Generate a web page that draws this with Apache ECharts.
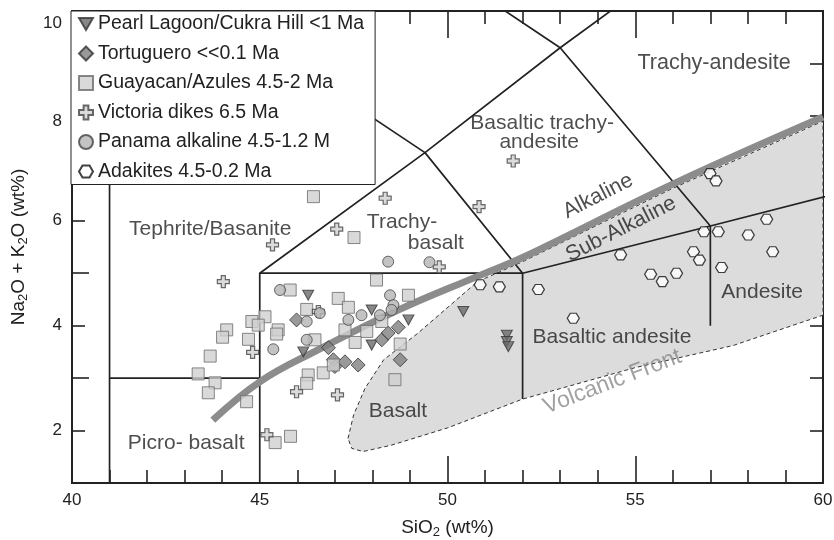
<!DOCTYPE html>
<html>
<head>
<meta charset="utf-8">
<script src="https://cdn.jsdelivr.net/npm/echarts@6/dist/echarts.min.js"></script>
<style>html,body{margin:0;padding:0;background:#fff}#c{width:834px;height:540px}</style>
</head>
<body>
<div id="c"></div>
<script>
// ---------- data ----------
const xTicksMinor = [41,42,43,44,46,47,48,49,51,52,53,54,56,57,58,59];
const xTicksMajor = [50,55];
const xTickLabels = [40,45,50,55,60];
const yTicksLeft = [2,4,6,7,8,9];
const yTicksLeftLong = [3,5];
const yTicksRight = [2,3,4,6,7,8,9];
const yTicksRightLong = [5];
const yTickLabels = [2,4,6,8,10];

const legendNames = ['Pearl Lagoon/Cukra Hill <1 Ma','Tortuguero <<0.1 Ma','Guayacan/Azules 4.5-2 Ma','Victoria dikes 6.5 Ma','Panama alkaline 4.5-1.2 M','Adakites 4.5-0.2 Ma'];

const pearlLagoon = [[46.29,4.58],[47.98,4.30],[48.96,4.11],[46.16,3.50],[47.98,3.63],[50.42,4.27],[51.58,3.82],[51.58,3.70],[51.62,3.60]];
const tortuguero = [[45.98,4.11],[46.83,3.58],[46.96,3.35],[47.27,3.31],[47.0,3.22],[47.62,3.25],[48.25,3.73],[48.42,3.86],[48.69,3.97],[48.74,3.35]];
const guayacan = [[45.81,4.68],[48.11,4.87],[48.96,4.58],[47.09,4.52],[47.36,4.35],[46.25,4.31],[45.14,4.17],[44.79,4.08],[44.96,4.01],[44.12,3.92],[44.01,3.78],[44.70,3.74],[45.49,3.92],[45.45,3.84],[47.27,3.92],[47.85,3.89],[48.25,4.08],[46.47,3.73],[47.54,3.68],[48.74,3.65],[43.68,3.42],[43.36,3.08],[43.81,2.91],[43.63,2.72],[46.29,3.06],[46.25,2.90],[46.69,3.10],[46.96,3.25],[44.65,2.55],[48.60,2.97],[45.41,1.77],[45.82,1.89],[46.43,6.46],[47.51,5.68]];
const victoria = [[44.03,4.84],[44.81,3.49],[45.98,2.74],[47.07,2.68],[45.19,1.92],[46.56,4.27],[48.34,6.43],[47.05,5.84],[45.34,5.54],[51.75,7.14],[50.84,6.27],[49.78,5.12]];
const panama = [[45.54,4.68],[48.42,5.22],[49.52,5.21],[48.47,4.58],[48.56,4.39],[48.51,4.30],[48.2,4.20],[47.71,4.20],[47.36,4.11],[46.25,4.08],[46.6,4.24],[46.25,3.73],[45.36,3.55]];
const adakites = [[50.87,4.78],[51.38,4.74],[52.42,4.69],[53.35,4.14],[54.61,5.35],[55.41,4.98],[55.72,4.84],[56.10,5.0],[56.55,5.41],[56.71,5.25],[56.83,5.79],[57.21,5.79],[56.99,6.90],[57.15,6.76],[57.30,5.11],[58.01,5.73],[58.5,6.03],[58.66,5.41]];

// TAS field boundaries
const tasLines = [
  [[41,1],[41,7],[45,9.4],[48.4,11.5]],
  [[41,3],[45,3]],
  [[45,1],[45,5],[52,5],[57,5.9],[63,7]],
  [[52,2.6],[52,5]],
  [[45,5],[49.4,7.3],[52,5]],
  [[45,9.4],[49.4,7.3],[53,9.3],[57,5.9],[57,4.0]],
  [[48.4,11.5],[53,9.3],[57.6,11.7]]
];
// alkaline / sub-alkaline divide
const alkalineLine = [[43.75,2.2],[45,2.93],[46.5,3.52],[48.7,4.3],[50.8,4.94],[52,5.3],[56,6.7],[60,7.98]];
// volcanic front field (gray)
const volcanicFront = [[47.35,1.85],[47.5,2.3],[47.8,2.8],[48.3,3.35],[49.2,3.85],[50.8,4.84],[52,5.22],[56,6.62],[60,7.9],[60,4.2],[57.6,3.62],[55,3.2],[52,2.6],[50,2.05],[48.5,1.72],[47.75,1.6],[47.45,1.66]];

// field labels: text, x, y, rotation, colour, font size
const fieldLabels = [
  ['Tephrite/Basanite',43.68,5.84,0,'#222',21],
  ['Trachy-',48.79,5.98,0,'#222',21],
  ['basalt',49.69,5.58,0,'#222',21],
  ['Basaltic trachy-',52.52,7.86,0,'#222',21],
  ['andesite',52.44,7.5,0,'#222',21],
  ['Trachy-andesite',57.1,9.0,0,'#222',21.5],
  ['Alkaline',54.01,6.47,27,'#222',21.5],
  ['Sub-Alkaline',54.62,5.84,27,'#222',21.5],
  ['Andesite',58.38,4.64,0,'#222',21],
  ['Basaltic andesite',54.38,3.78,0,'#222',21],
  ['Basalt',48.68,2.37,0,'#222',21],
  ['Picro- basalt',43.04,1.76,0,'#222',21],
  ['Volcanic Front',54.39,2.93,21,'#8a8a8a',23]
];

// ---------- chart ----------
const FONT = 'Liberation Sans, Arial, Helvetica, sans-serif';
const chart = echarts.init(document.getElementById('c'));

const frame = {color:'#222', width:2};
function xAx(pos, ticks, len, opts) {
  return Object.assign({
    type:'value', min:40, max:60, interval:1, position:pos,
    axisLine:{show:true, onZero:false, lineStyle:frame},
    axisTick:{show:true, inside:true, length:len, customValues:ticks, lineStyle:{color:'#222', width:1.6}},
    axisLabel:{show:false}, splitLine:{show:false}
  }, opts || {});
}
function yAx(pos, ticks, len, opts) {
  return Object.assign({
    type:'value', min:1, max:10, interval:1, position:pos,
    axisLine:{show:true, onZero:false, lineStyle:frame},
    axisTick:{show:true, inside:true, length:len, customValues:ticks, lineStyle:{color:'#222', width:1.6}},
    axisLabel:{show:false}, splitLine:{show:false}
  }, opts || {});
}

const scatterCommon = {type:'scatter', z:10, xAxisIndex:0, yAxisIndex:0};

const series = [];
series.push({
  type:'custom', z:1, silent:true,
  renderItem: function(params, api){
    const pts = volcanicFront.map(p => api.coord(p));
    return {type:'polygon', shape:{points:pts}, style:{fill:'#dcdcdc', stroke:'#333', lineWidth:1, lineDash:[4,3]}};
  },
  data:[[50,5]]
});
tasLines.forEach(l => series.push({type:'line', z:3, data:l, symbol:'none', clip:true, silent:true,
  lineStyle:{color:'#222', width:1.7}}));
series.push({type:'line', z:4, data:alkalineLine, symbol:'none', smooth:0.4, clip:true, silent:true,
  lineStyle:{color:'#8c8c8c', width:7}});
series.push({type:'scatter', z:5, silent:true, symbolSize:1, itemStyle:{color:'rgba(0,0,0,0)'},
  data: fieldLabels.map(f => ({value:[f[1],f[2]], label:{show:true, formatter:f[0], rotate:f[3], color:f[4], fontSize:f[5]}})),
  label:{show:true, position:'inside', fontSize:21, fontFamily:FONT, color:'#222'}
});

series.push(Object.assign({}, scatterCommon, {name:legendNames[0], data:pearlLagoon,
  symbol:'path://M0,0 L10,0 L5,8.66 Z', symbolSize:[11,10],
  itemStyle:{color:'#6a6a6a', borderColor:'#333', borderWidth:1}}));
series.push(Object.assign({}, scatterCommon, {name:legendNames[1], data:tortuguero,
  symbol:'path://M5,0 L10,5 L5,10 L0,5 Z', symbolSize:[14,14],
  itemStyle:{color:'#808080', borderColor:'#333', borderWidth:1}}));
series.push(Object.assign({}, scatterCommon, {name:legendNames[2], data:guayacan,
  symbol:'rect', symbolSize:12,
  itemStyle:{color:'#cfcfcf', borderColor:'#6a6a6a', borderWidth:1}}));
series.push(Object.assign({}, scatterCommon, {name:legendNames[3], data:victoria,
  symbol:'path://M3.3,0 H6.7 V3.3 H10 V6.7 H6.7 V10 H3.3 V6.7 H0 V3.3 H3.3 Z', symbolSize:12,
  itemStyle:{color:'#d2d2d2', borderColor:'#444', borderWidth:1.2}}));
series.push(Object.assign({}, scatterCommon, {name:legendNames[4], data:panama,
  symbol:'circle', symbolSize:11,
  itemStyle:{color:'#b4b4b4', borderColor:'#444', borderWidth:1}}));
series.push(Object.assign({}, scatterCommon, {name:legendNames[5], data:adakites,
  symbol:'path://M2.5,0 H7.5 L10,4.33 L7.5,8.66 H2.5 L0,4.33 Z', symbolSize:[12,10],
  itemStyle:{color:'#ffffff', borderColor:'#111', borderWidth:1.2}}));

const option = {
  animation:false,
  textStyle:{fontFamily:FONT},
  grid:{left:72, right:11, top:11, bottom:57, containLabel:false, outerBoundsMode:'none'},
  legend:{
    orient:'vertical', left:71, top:11, z:20,
    backgroundColor:'#fff', borderColor:'#222', borderWidth:1,
    padding:[3,11,3,7], itemGap:9.5, itemWidth:14, itemHeight:14,
    textStyle:{fontSize:19.5, color:'#222', fontFamily:FONT, lineHeight:20},
    data:legendNames, selectedMode:false
  },
  xAxis:[
    xAx('bottom', xTicksMinor, 13, {
      axisLabel:{show:true, customValues:xTickLabels, fontSize:17, color:'#222', margin:9, fontFamily:FONT},
      name:'SiO{s|2} (wt%)', nameLocation:'middle', nameGap:34,
      nameTextStyle:{fontSize:19, color:'#222', fontFamily:FONT, lineHeight:22,
        rich:{s:{fontSize:13, verticalAlign:'bottom', lineHeight:22, fontFamily:FONT, color:'#222'}}}
    }),
    xAx('bottom', xTicksMajor, 27),
    xAx('top', xTicksMinor, 13),
    xAx('top', xTicksMajor, 27)
  ],
  yAxis:[
    yAx('left', yTicksLeft, 13, {
      axisLabel:{show:true, customValues:yTickLabels, fontSize:17, color:'#222', margin:10, fontFamily:FONT,
        formatter: v => v === 10 ? '{a|10}' : (v === 8 ? '{b|8}' : String(v)),
        rich:{a:{fontSize:17, padding:[24,0,0,0], color:'#222'}, b:{fontSize:17, padding:[10,0,0,0], color:'#222'}}},
      name:'Na{s|2}O + K{s|2}O (wt%)', nameLocation:'middle', nameGap:42, nameRotate:90,
      nameTextStyle:{fontSize:19, color:'#222', fontFamily:FONT, lineHeight:22,
        rich:{s:{fontSize:13, verticalAlign:'bottom', lineHeight:22, fontFamily:FONT, color:'#222'}}}
    }),
    yAx('left', yTicksLeftLong, 17),
    yAx('right', yTicksRight, 13),
    yAx('right', yTicksRightLong, 25)
  ],
  series: series
};
chart.setOption(option);
</script>
</body>
</html>
